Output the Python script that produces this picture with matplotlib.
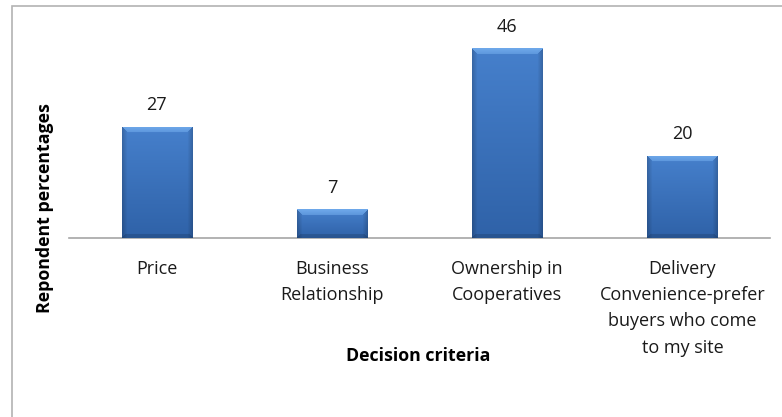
import numpy as np
import matplotlib
matplotlib.use("Agg")
import matplotlib.pyplot as plt
from matplotlib.colors import to_rgb
from matplotlib.patches import Rectangle

categories = [
    "Price",
    "Business\nRelationship",
    "Ownership in\nCooperatives",
    "Delivery\nConvenience-prefer\nbuyers who come\nto my site",
]
percentages = [27, 7, 46, 20]

plt.rcParams["font.family"] = ["Open Sans", "DejaVu Sans"]

W, H = 782, 417
fig = plt.figure(figsize=(W / 100, H / 100), dpi=100)
ax = fig.add_axes([69 / W, (H - 238) / H, (770 - 69) / W, (238 - 32) / H])

x = np.arange(len(categories))
bars = ax.bar(x, percentages, width=0.4, color="#3a70b8", edgecolor="#2d5a94",
              linewidth=0.6, zorder=2)

ax.set_xlim(-0.5, len(categories) - 0.5)
ax.set_ylim(0, 50)
ax.set_yticks([])
ax.set_xticks(x)
ax.set_xticklabels(categories, fontsize=13, linespacing=1.58, color="#1a1a1a")
ax.tick_params(axis="x", length=0, pad=16)
for side in ("top", "right", "left"):
    ax.spines[side].set_visible(False)
ax.spines["bottom"].set_color("#a6a6a6")
ax.spines["bottom"].set_linewidth(1.2)


def shade_bar(rect):
    # bevelled gradient fill drawn on top of the plain bar
    x0, y0 = rect.get_x(), rect.get_y()
    x1, y1 = x0 + rect.get_width(), y0 + rect.get_height()
    (px0, py0), (px1, py1) = ax.transData.transform([(x0, y0), (x1, y1)])
    nw, nh = max(int(round(px1 - px0)), 2), max(int(round(py1 - py0)), 2)
    top, bot = np.array(to_rgb("#4680cc")), np.array(to_rgb("#2f62a8"))
    t = np.linspace(0, 1, nh)[:, None, None]
    img = top * (1 - t) + bot * t
    img = np.repeat(img, nw, axis=1)
    cols = np.arange(nw)
    edge = np.minimum(cols, nw - 1 - cols)
    side = np.clip(1 - edge / 5.0, 0, 1)[None, :, None]
    img = img * (1 - 0.18 * side)
    bev = 6
    for r in range(min(bev, nh)):
        lo, hi = r, nw - r
        img[r, lo:hi] = np.array(to_rgb("#6ea8ea")) * (1 - r / 14) + img[r, lo:hi] * (r / 14)
    for r in range(min(4, nh)):
        rr = nh - 1 - r
        img[rr, r:nw - r] = img[rr, r:nw - r] * 0.86
    im = ax.imshow(img, extent=(x0, x1, y0, y1), aspect="auto",
                   interpolation="bilinear", zorder=3)
    im.set_clip_path(rect)


for rect, val in zip(bars, percentages):
    shade_bar(rect)
    ax.annotate(f"{val}", (rect.get_x() + rect.get_width() / 2, val),
                xytext=(0, 9), textcoords="offset points", ha="center",
                va="bottom", fontsize=13, color="#1a1a1a")

ax.set_xlim(-0.5, len(categories) - 0.5)
ax.set_ylim(0, 50)

fig.text(45 / W, (H - 208) / H, "Repondent percentages", rotation=90,
         ha="center", va="center", fontsize=12.8, fontweight="bold")
fig.text(418 / W, (H - 356) / H, "Decision criteria", ha="center",
         va="center", fontsize=12.8, fontweight="bold")

# chart area frame
fig.patches.append(Rectangle((12 / W, -0.1), 1.2, (H - 6) / H + 0.1,
                             transform=fig.transFigure, fill=False,
                             edgecolor="#b3b3b3", linewidth=1.2))

fig.savefig("out.png", dpi=100)
